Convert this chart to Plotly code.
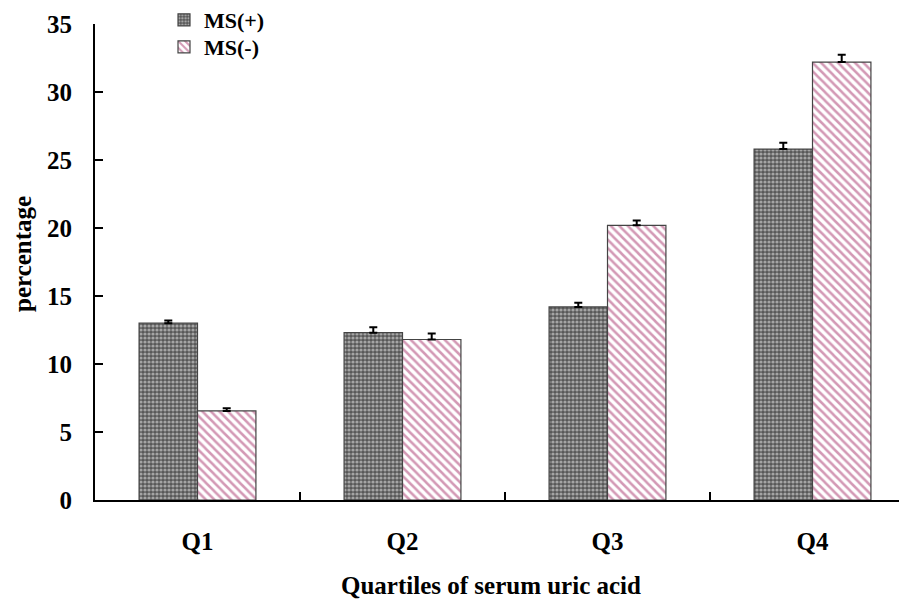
import plotly.graph_objects as go

categories = ["Q1", "Q2", "Q3", "Q4"]
ms_pos = [13.0, 12.3, 14.2, 25.8]
ms_pos_err = [0.2, 0.4, 0.3, 0.47]
ms_neg = [6.55, 11.8, 20.2, 32.2]
ms_neg_err = [0.19, 0.45, 0.35, 0.54]
y_ticks = [0, 5, 10, 15, 20, 25, 30, 35]

FONT = "Liberation Serif, Times New Roman, serif"
FS = 25

# page body has an 8px default margin; plot area targets window px x 95..915, y 24..500
PL, PR, PT, PB = 95, 915, 24, 500


def px(X):
    return (X - PL) / (PR - PL)


def py(Y):
    return (PB - Y) / (PB - PT)


fig = go.Figure()
fig.add_trace(go.Bar(
    x=categories, y=ms_pos, name="<b>MS(+)</b>", legend="legend",
    marker=dict(
        color="#ffffff",
        line=dict(color="#444444", width=1.2),
        pattern=dict(shape=".", fgcolor="#f4f4f4", bgcolor="#575757", size=4, solidity=0.5),
    ),
    error_y=dict(type="data", array=ms_pos_err, arrayminus=[0]*4, symmetric=False,
                 color="black", thickness=2, width=4),
))
fig.add_trace(go.Bar(
    x=categories, y=ms_neg, name="<b>MS(-)</b>", legend="legend2",
    marker=dict(
        color="white",
        line=dict(color="#444444", width=1.2),
        pattern=dict(shape="\\", fgcolor="#a8336b", bgcolor="white", size=6, solidity=0.42),
    ),
    error_y=dict(type="data", array=ms_neg_err, arrayminus=[0]*4, symmetric=False,
                 color="black", thickness=2, width=4),
))

leg_common = dict(xanchor="left", yanchor="middle", bgcolor="rgba(0,0,0,0)",
                  font=dict(family=FONT, size=22), itemwidth=30)

fig.update_layout(
    width=907, height=600,
    margin=dict(l=PL - 8, r=0, t=PT - 8, b=608 - PB, autoexpand=False),
    paper_bgcolor="white", plot_bgcolor="white",
    barmode="group", bargap=0.43, bargroupgap=0,
    font=dict(family=FONT, size=FS, color="black"),
    showlegend=True,
    legend=dict(x=px(164), y=py(20), **leg_common),
    legend2=dict(x=px(164), y=py(47), **leg_common),
    annotations=[
        dict(text="<b>Quartiles of serum uric acid</b>", xref="paper", yref="paper",
             x=px(491), y=py(585), xanchor="center", yanchor="middle",
             showarrow=False, font=dict(family=FONT, size=FS)),
        dict(text="<b>percentage</b>", xref="paper", yref="paper",
             x=px(23), y=py(254), xanchor="center", yanchor="middle",
             textangle=-90, showarrow=False, font=dict(family=FONT, size=FS)),
    ],
)
fig.update_xaxes(
    type="category", range=[-0.5, 3.5], automargin=False,
    showline=True, linecolor="black", linewidth=2,
    ticks="inside", tickson="boundaries", ticklen=8, tickwidth=2, tickcolor="black",
    tickfont=dict(family=FONT, size=FS),
    tickvals=categories, ticktext=["<b>%s</b>" % c for c in categories],
    ticklabelstandoff=18,
    showgrid=False, zeroline=False,
)
fig.update_yaxes(
    range=[0, 35], automargin=False, tickvals=y_ticks, ticktext=["<b>%d</b>" % v for v in y_ticks],
    showline=True, linecolor="black", linewidth=2,
    ticks="inside", ticklen=8, tickwidth=2, tickcolor="black",
    tickfont=dict(family=FONT, size=FS),
    ticklabelstandoff=16,
    showgrid=False, zeroline=False,
)

fig.write_html("out.html")
